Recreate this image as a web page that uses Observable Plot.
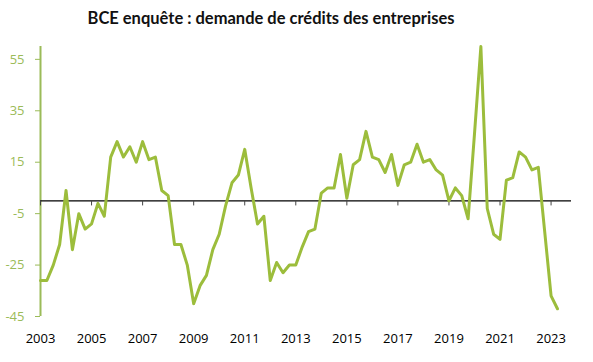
<!DOCTYPE html>
<html>
<head>
<meta charset="utf-8">
<script src="https://cdn.jsdelivr.net/npm/d3@7"></script>
<script src="https://cdn.jsdelivr.net/npm/@observablehq/plot@0.6"></script>
<style>
  body { margin: 0; background: #fff; }
  #wrap { position: relative; width: 593px; height: 362px; overflow: hidden; }
  #title { position: absolute; left: 0; width: 542px; top: 8px; text-align: center;
           font-family: "Lato", sans-serif; font-weight: 700; font-size: 16.5px; color: #111; }
  #chart { position: absolute; left: 0; top: 40px; }
</style>
</head>
<body>
<div id="wrap">
  <div id="title">BCE enquête : demande de crédits des entreprises</div>
  <div id="chart"></div>
</div>
<script>
// Net demand for loans to enterprises, quarterly, 2003 Q1 – 2023 Q2
const firstYear = 2003;
const values = [
  -31, -31, -25, -17,   // 2003
    4, -19,  -5, -11,   // 2004
   -9,  -1,  -6,  17,   // 2005
   23,  17,  21,  15,   // 2006
   23,  16,  17,   4,   // 2007
    2, -17, -17, -25,   // 2008
  -40, -33, -29, -19,   // 2009
  -13,  -2,   7,  10,   // 2010
   20,   5,  -9,  -6,   // 2011
  -31, -24, -28, -25,   // 2012
  -25, -18, -12, -11,   // 2013
    3,   5,   5,  18,   // 2014
    1,  14,  16,  27,   // 2015
   17,  16,  11,  18,   // 2016
    6,  14,  15,  22,   // 2017
   15,  16,  12,  10,   // 2018
    0,   5,   2,  -7,   // 2019
   26,  60,  -3, -13,   // 2020
  -15,   8,   9,  19,   // 2021
   17,  12,  13, -12,   // 2022
  -37, -42              // 2023
];
const tickYears = [2003, 2005, 2007, 2009, 2011, 2013, 2015, 2017, 2019, 2021, 2023];
const yTicks = [-45, -25, -5, 15, 35, 55];

const data = values.map((v, i) => ({
  t: firstYear + Math.floor(i / 4) + (i % 4) / 4,
  v
}));

const green = "#9cbd3c";
const labelGreen = "#9bbb59";

const chart = Plot.plot({
  width: 593,
  height: 322,
  marginLeft: 40,
  marginRight: 22,
  marginTop: 6,
  marginBottom: 46,
  style: { fontFamily: "Open Sans", fontSize: "13px", background: "white" },
  x: { domain: [2003, 2023.8] },
  y: { domain: [-45, 60] },
  marks: [
    Plot.axisY(yTicks, { tickSize: 5, tickPadding: 11, stroke: labelGreen, fill: labelGreen, tickFormat: d => String(d), label: null }),
    Plot.axisX(tickYears, { tickSize: 0, tickPadding: 17, fill: "black", tickFormat: d => String(d), label: null }),
    Plot.ruleX([2003], { y1: -45, y2: 60, stroke: labelGreen, strokeWidth: 2 }),
    Plot.ruleY([0], { stroke: "black", strokeWidth: 1.3 }),
    Plot.ruleX(tickYears, { y1: 0, y2: -2, stroke: "#444", strokeWidth: 1 }),
    Plot.line(data, { x: "t", y: "v", stroke: green, strokeWidth: 3 })
  ]
});
document.getElementById("chart").appendChild(chart);
</script>
</body>
</html>
